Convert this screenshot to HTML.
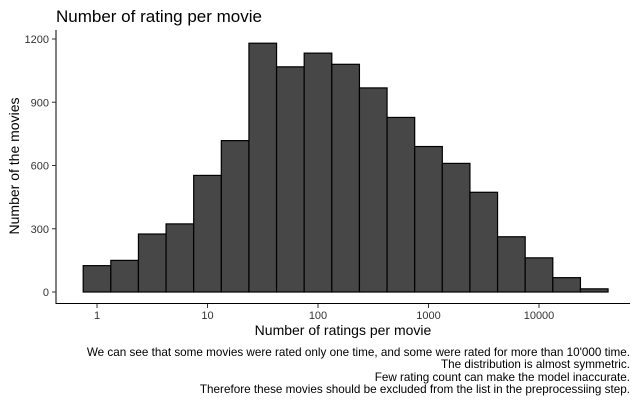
<!DOCTYPE html>
<html><head><meta charset="utf-8"><style>
body{margin:0;background:#fff;font-family:"Liberation Sans",Arial,sans-serif}
svg text{font-family:"Liberation Sans",Arial,sans-serif}
</style></head><body>
<svg id="chart" width="638" height="403" xmlns="http://www.w3.org/2000/svg">
<text x="56" y="22" font-size="17" fill="#000">Number of rating per movie</text>
<g id="plot"></g>
<text transform="translate(19,166) rotate(-90)" text-anchor="middle" font-size="14">Number of the movies</text>
<text x="343" y="335" text-anchor="middle" font-size="14">Number of ratings per movie</text>
<g font-size="11.7" text-anchor="end">
<text x="630" y="356">We can see that some movies were rated only one time, and some were rated for more than 10'000 time.</text>
<text x="630" y="368">The distribution is almost symmetric.</text>
<text x="630" y="381">Few rating count can make the model inaccurate.</text>
<text x="630" y="393">Therefore these movies should be excluded from the list in the preprocessiing step.</text>
</g>
</svg>
<script>
const binCenters=[0,0.25,0.5,0.75,1,1.25,1.5,1.75,2,2.25,2.5,2.75,3,3.25,3.5,3.75,4,4.25,4.5];
const counts=[125,150,275,323,553,718,1180,1068,1133,1080,968,828,690,610,473,262,162,68,15];
const yTicks=[0,300,600,900,1200];
const xTicks=[0,1,2,3,4];
const xTickLabels=["1","10","100","1000","10000"];
const binWidth=0.25;
const NS="http://www.w3.org/2000/svg";
const g=document.getElementById('plot');
const x=v=>97+v*110.5;
const y=v=>292-v*(63.25/300);
function mk(t,a){const e=document.createElementNS(NS,t);for(const k in a)e.setAttribute(k,a[k]);g.appendChild(e);return e;}
binCenters.forEach((c,i)=>{
 const r=mk('rect',{x:x(c-binWidth/2),y:y(counts[i]),width:x(binWidth)-x(0),height:y(0)-y(counts[i]),fill:'#474747',stroke:'#000','stroke-width':1.2});
 
 
});
const ya=mk('line',{x1:56,y1:30,x2:56,y2:304,stroke:'#000','stroke-width':1});


const xa=mk('line',{x1:55.5,y1:303.5,x2:630,y2:303.5,stroke:'#000','stroke-width':1});


yTicks.forEach(t=>{
 mk('line',{x1:52,x2:56,y1:y(t),y2:y(t),stroke:'#333'});
 const l=mk('text',{x:49,y:y(t)+4,'text-anchor':'end','font-size':11,fill:'#333'});
 l.textContent=t;
 
 
});
xTicks.forEach((t,i)=>{
 mk('line',{x1:x(t),x2:x(t),y1:304,y2:308,stroke:'#333'});
 const l=mk('text',{x:x(t),y:319,'text-anchor':'middle','font-size':11,fill:'#333'});
 l.textContent=xTickLabels[i];
 
 
});
</script>
</body></html>
